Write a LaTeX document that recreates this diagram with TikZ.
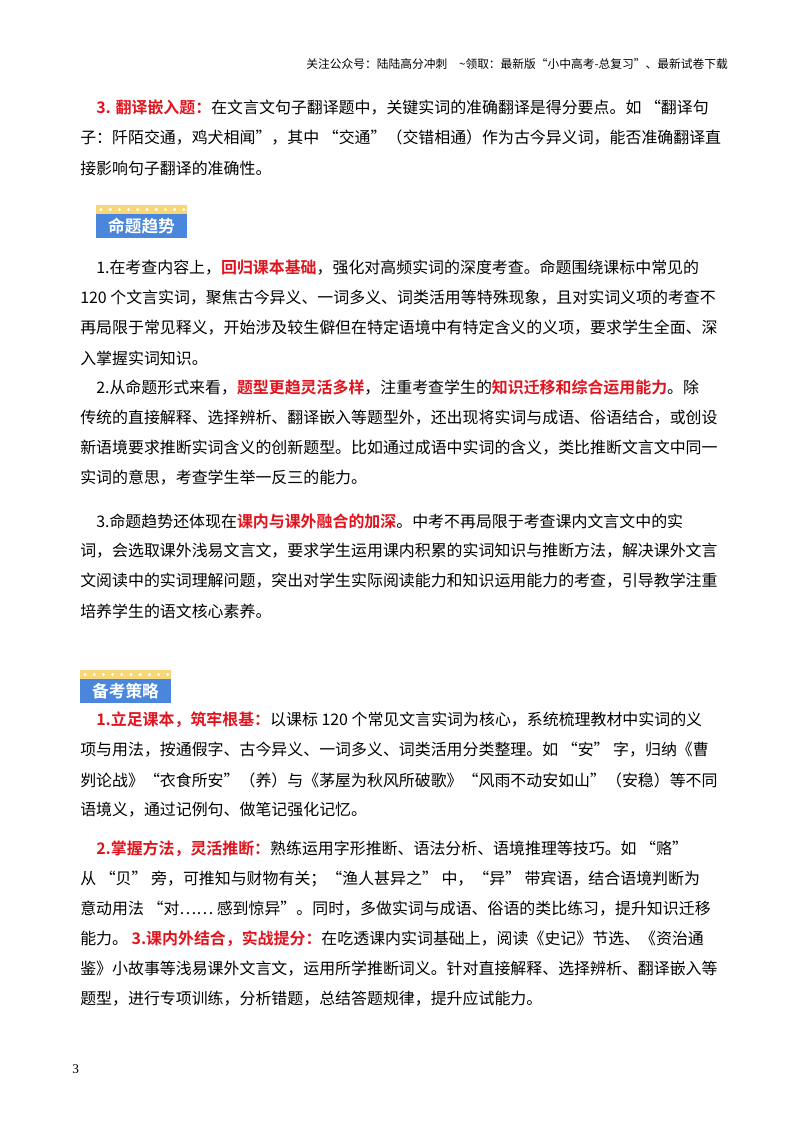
\documentclass[tikz,border=0pt]{standalone}
\usepackage{fontspec}
\setmainfont{Noto Sans CJK SC}
\newfontfamily\cjkb{Noto Sans CJK SC Bold}
\newfontfamily\numf{Liberation Serif}
\definecolor{redt}{HTML}{E0141E}
\definecolor{badgeblue}{HTML}{4A86DC}
\definecolor{badgeyel}{HTML}{F8D778}
\begin{document}
\begin{tikzpicture}[x=0.75pt,y=-0.75pt,
  ln/.style={anchor=west,inner sep=0pt,font=\fontsize{11.95}{14}\selectfont},
  hd/.style={anchor=east,inner sep=0pt,font=\fontsize{8.8}{10}\selectfont}]
\newcommand{\R}[1]{{\color{redt}\cjkb #1}}
\useasboundingbox (0,0) rectangle (800,1132);
\fill[white] (0,0) rectangle (800,1132);
\node[hd] (h) at (728,64) {关注公众号：陆陆高分冲刺\quad \~{}领取：最新版“小中高考-总复习”、最新试卷下载};
\node[ln] (a1) at (96,108) {\R{3. 翻译嵌入题：}在文言文句子翻译题中，关键实词的准确翻译是得分要点。如 “翻译句};
\node[ln] (a2) at (80,138) {子：阡陌交通，鸡犬相闻”，其中 “交通”（交错相通）作为古今异义词，能否准确翻译直};
\node[ln] (a3) at (80,168) {接影响句子翻译的准确性。};
% badge 1
\fill[badgeyel] (96,205) rectangle (187,214);
\foreach \i in {0,...,9} \fill[white] (101+\i*9.2,209.5) circle (1.6);
\fill[badgeblue] (96,214) rectangle (187,238);
\node[text=white,font=\cjkb\fontsize{12.5}{14}\selectfont] (b1) at (141.5,226.5) {命题趋势};
\node[ln] (c1) at (96,268) {1.在考查内容上，\R{回归课本基础}，强化对高频实词的深度考查。命题围绕课标中常见的};
\node[ln] (c2) at (80,298) {120 个文言实词，聚焦古今异义、一词多义、词类活用等特殊现象，且对实词义项的考查不};
\node[ln] (c3) at (80,328) {再局限于常见释义，开始涉及较生僻但在特定语境中有特定含义的义项，要求学生全面、深};
\node[ln] (c4) at (80,358) {入掌握实词知识。};
\node[ln] (d1) at (96,388) {2.从命题形式来看，\R{题型更趋灵活多样}，注重考查学生的\R{知识迁移和综合运用能力}。除};
\node[ln] (d2) at (80,418) {传统的直接解释、选择辨析、翻译嵌入等题型外，还出现将实词与成语、俗语结合，或创设};
\node[ln] (d3) at (80,448) {新语境要求推断实词含义的创新题型。比如通过成语中实词的含义，类比推断文言文中同一};
\node[ln] (d4) at (80,478) {实词的意思，考查学生举一反三的能力。};
\node[ln] (e1) at (96,521) {3.命题趋势还体现在\R{课内与课外融合的加深}。中考不再局限于考查课内文言文中的实};
\node[ln] (e2) at (80,551) {词，会选取课外浅易文言文，要求学生运用课内积累的实词知识与推断方法，解决课外文言};
\node[ln] (e3) at (80,581) {文阅读中的实词理解问题，突出对学生实际阅读能力和知识运用能力的考查，引导教学注重};
\node[ln] (e4) at (80,611) {培养学生的语文核心素养。};
% badge 2
\fill[badgeyel] (80,670) rectangle (171,679);
\foreach \i in {0,...,9} \fill[white] (85+\i*9.2,674.5) circle (1.6);
\fill[badgeblue] (80,679) rectangle (171,703);
\node[text=white,font=\cjkb\fontsize{12.5}{14}\selectfont] (b2) at (125.5,691.5) {备考策略};
\node[ln] (f1) at (96,720) {\R{1.立足课本，筑牢根基：}以课标 120 个常见文言实词为核心，系统梳理教材中实词的义};
\node[ln] (f2) at (80,750) {项与用法，按通假字、古今异义、一词多义、词类活用分类整理。如 “安” 字，归纳《曹};
\node[ln] (f3) at (80,780) {刿论战》“衣食所安”（养）与《茅屋为秋风所破歌》“风雨不动安如山”（安稳）等不同};
\node[ln] (f4) at (80,810) {语境义，通过记例句、做笔记强化记忆。};
\node[ln] (g1) at (96,849) {\R{2.掌握方法，灵活推断：}熟练运用字形推断、语法分析、语境推理等技巧。如 “赂”};
\node[ln] (g2) at (80,879) {从 “贝” 旁，可推知与财物有关；“渔人甚异之” 中，“异” 带宾语，结合语境判断为};
\node[ln] (g3) at (80,909) {意动用法 “对…… 感到惊异”。同时，多做实词与成语、俗语的类比练习，提升知识迁移};
\node[ln] (g4) at (80,939) {能力。 \R{3.课内外结合，实战提分：}在吃透课内实词基础上，阅读《史记》节选、《资治通};
\node[ln] (g5) at (80,969) {鉴》小故事等浅易课外文言文，运用所学推断词义。针对直接解释、选择辨析、翻译嵌入等};
\node[ln] (g6) at (80,999) {题型，进行专项训练，分析错题，总结答题规律，提升应试能力。};
\node[ln,font=\numf\fontsize{10}{12}\selectfont] (pn) at (72,1069) {3};
\end{tikzpicture}
\end{document}
